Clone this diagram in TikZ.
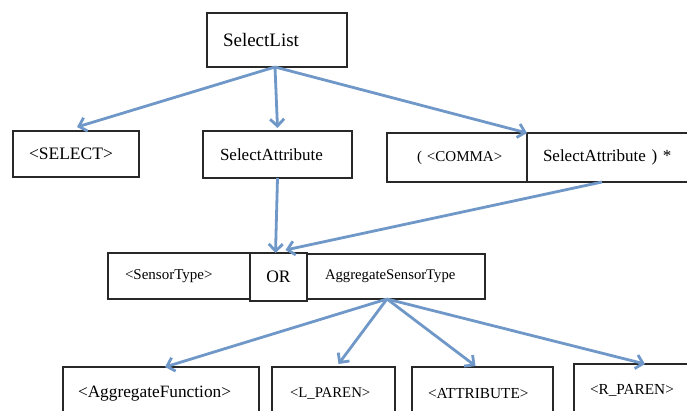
\documentclass[tikz,border=0pt]{standalone}
\usepackage{fontspec}
\setmainfont{Liberation Serif}
\usetikzlibrary{arrows.meta,calc}
\definecolor{arrowblue}{RGB}{111,152,200}
\definecolor{boxline}{RGB}{40,40,40}
\begin{document}
\begin{tikzpicture}[x=1pt,y=-1pt,
  box/.style={draw=boxline,line width=1.3pt,anchor=north west,align=left,inner ysep=0pt,outer sep=0pt},
  orbox/.style={draw=boxline,line width=1.3pt,anchor=north west,align=center,inner sep=0pt,outer sep=0pt},
  conn/.style={draw=arrowblue,line width=2.8pt,-{Straight Barb[length=7pt,width=14pt]}},
  fs/.style={font=\fontsize{#1}{#1}\selectfont}]
\useasboundingbox (0,0) rectangle (687,410);
\clip (0,0) rectangle (687,410);
% top
\node[box,fs=19,inner xsep=16pt,text width=108pt,minimum height=54pt] (sl) at (207,13) {SelectList};
% second row
\node[box,fs=17.5,inner xsep=16pt,text width=94pt,minimum height=46pt] (sel) at (13,131) {<SELECT>};
\node[box,fs=17,inner xsep=17pt,text width=115pt,minimum height=47pt] (sa) at (203,131) {SelectAttribute};
\node[box,fs=15,inner xsep=20pt,text width=100pt,minimum height=49pt] (comma) at (387,133) {\hspace*{10pt}( <COMMA>};
\node[box,fs=17,inner xsep=16pt,text width=141pt,minimum height=49pt] (sa2) at (527,133) {SelectAttribute ) *};
% third row
\node[box,fs=15,inner xsep=17pt,text width=108pt,minimum height=46pt] (st) at (108,253) {<SensorType>};
\node[orbox,fs=17.5,minimum width=57pt,minimum height=48pt] (or) at (250,253) {OR};
\node[box,fs=14.7,inner xsep=18pt,text width=142pt,minimum height=45pt] (ast) at (307,254) {AggregateSensorType};
% bottom row
\node[box,fs=17.3,inner xsep=15pt,text width=166pt,minimum height=53pt] (af) at (63,367) {<AggregateFunction>};
\node[box,fs=14.8,inner xsep=18pt,text width=87pt,minimum height=53pt] (lp) at (272,367) {<L\_PAREN>};
\node[box,fs=15.3,inner xsep=16pt,text width=109pt,minimum height=53pt] (at) at (412,367) {<ATTRIBUTE>};
\node[box,fs=15.3,inner xsep=16pt,text width=110pt,minimum height=52pt] (rp) at (574,364) {<R\_PAREN>};
% connectors
\coordinate (slb) at ($(sl.south)+(-2,0)$);
\draw[conn] (slb) -- ($(sel.north)+(1,-4)$);
\draw[conn] (slb) -- ($(sa.north)+(0,-3)$);
\draw[conn] (slb) -- (comma.north east);
\draw[conn] (sa.south) -- ($(or.north)+(-3,0)$);
\draw[conn] ($(sa2.south west)+(75,0)$) -- ($(or.north)+(7,-3)$);
\coordinate (astb) at ($(ast.south west)+(80,0)$);
\draw[conn] (astb) -- ($(af.north)+(4,0)$);
\draw[conn] (astb) -- ($(lp.north)+(5,-3)$);
\draw[conn] (astb) -- ($(at.north)+(-7,-1)$);
\draw[conn] (astb) -- ($(rp.north)+(0,0)$);
\end{tikzpicture}
\end{document}
